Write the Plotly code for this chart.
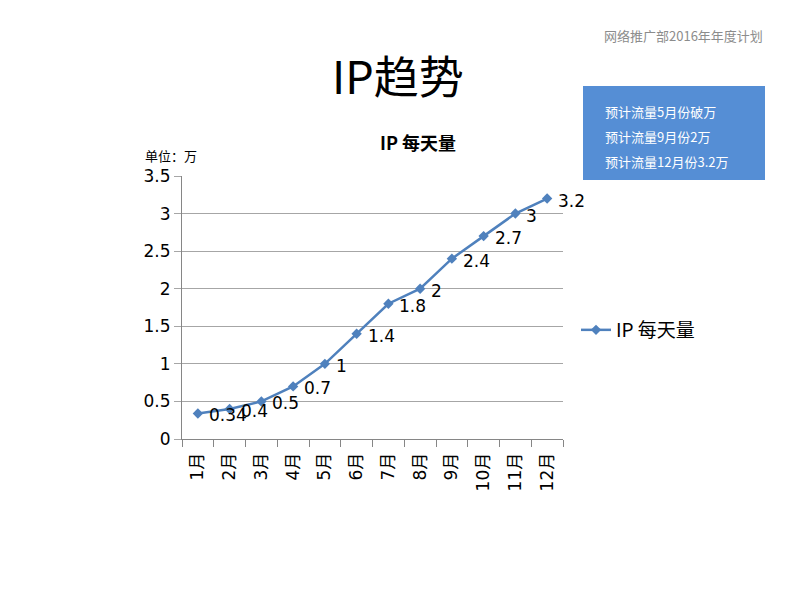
import plotly.graph_objects as go

months = ["1月", "2月", "3月", "4月", "5月", "6月", "7月", "8月", "9月", "10月", "11月", "12月"]
ip_daily = [0.34, 0.4, 0.5, 0.7, 1, 1.4, 1.8, 2, 2.4, 2.7, 3, 3.2]
series_name = "IP 每天量"
y_ticks = [0, 0.5, 1, 1.5, 2, 2.5, 3, 3.5]
y_tick_text = ["0", "0.5", "1", "1.5", "2", "2.5", "3", "3.5"]
notes = ["预计流量5月份破万", "预计流量9月份2万", "预计流量12月份3.2万"]

W, H = 800, 600
L, R, T, B = 182, 563, 176, 439

def px(x):
    return (x - L) / (R - L)

def py(y):
    return (B - y) / (B - T)

CJK = "Noto Sans CJK SC, DejaVu Sans, sans-serif"
NUM = "DejaVu Sans, Noto Sans CJK SC, sans-serif"
blue = "#4F81BD"

fig = go.Figure()
fig.add_trace(go.Scatter(
    x=months, y=ip_daily, name=series_name, mode="lines+markers",
    line=dict(color=blue, width=2.5),
    marker=dict(symbol="diamond", size=8, color=blue),
    cliponaxis=False,
))

# data labels placed right of each point
for m, v in zip(months, ip_daily):
    fig.add_annotation(x=m, y=v, xref="x", yref="y", text=str(v), showarrow=False,
                       xanchor="left", yanchor="middle", xshift=9, yshift=-2,
                       font=dict(family=NUM, size=17, color="#000"))

fig.update_layout(
    width=W, height=H,
    margin=dict(l=L, r=W - R, t=T, b=H - B),
    paper_bgcolor="white", plot_bgcolor="white",
    showlegend=True,
    legend=dict(x=px(576), y=py(330), xanchor="left", yanchor="middle",
                itemwidth=30,
                font=dict(family=CJK, size=19, color="#000"),
                bgcolor="rgba(0,0,0,0)"),
    xaxis=dict(type="category", range=[-0.5, 11.5], showgrid=False,
               showline=True, linecolor="#868686", linewidth=1,
               ticks="outside", tickson="boundaries", ticklen=7, tickcolor="#868686",
               ticklabelstandoff=6,
               tickangle=-90, tickfont=dict(family=NUM, size=17, color="#000")),
    yaxis=dict(range=[0, 3.5], tickvals=y_ticks, ticktext=y_tick_text,
               showgrid=True, gridcolor="#a6a6a6", gridwidth=1,
               showline=True, linecolor="#868686", linewidth=1,
               ticks="outside", ticklen=7, tickcolor="#a6a6a6",
               zeroline=False,
               tickfont=dict(family=NUM, size=17, color="#000")),
)

# Blue note box
fig.add_shape(type="rect", xref="paper", yref="paper",
              x0=px(583), x1=px(765), y0=py(180), y1=py(86),
              fillcolor="#558ED5", line=dict(width=0), layer="above")

anns = [
    dict(text="IP趋势", x=px(398), y=py(75), font=dict(family=CJK, size=45, color="#000")),
    dict(text="网络推广部2016年年度计划", x=px(683), y=py(35), font=dict(family=CJK, size=13, color="#8c8c8c")),
    dict(text="<b>IP 每天量</b>", x=px(418), y=py(142), font=dict(family=CJK, size=18, color="#000")),
    dict(text="单位：万", x=px(171), y=py(155), font=dict(family=CJK, size=13, color="#000")),
]
for i, n in enumerate(notes):
    anns.append(dict(text=n, x=px(603), y=py(111 + 25 * i), xanchor="left",
                     font=dict(family=CJK, size=13, color="white")))
for a in anns:
    a.setdefault("xanchor", "center")
    fig.add_annotation(xref="paper", yref="paper", yanchor="middle", showarrow=False, **a)

fig.write_html("out.html")
